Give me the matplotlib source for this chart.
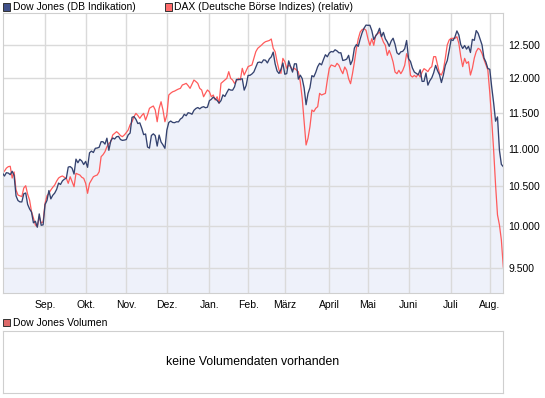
import numpy as np
import pandas as pd
import matplotlib
matplotlib.use("Agg")
import matplotlib.pyplot as plt
from matplotlib.patches import Rectangle
from matplotlib.ticker import FixedLocator, FuncFormatter, NullLocator

plt.rcParams['font.family'] = ['Liberation Sans', 'DejaVu Sans']

# ---------------- data ----------------
holidays = ['2010-09-06', '2010-11-25', '2010-12-24', '2011-01-17',
            '2011-02-21', '2011-04-22', '2011-05-30', '2011-07-04']
dates = pd.bdate_range('2010-08-02', '2011-08-10', freq='C', holidays=holidays)

dow = [
    # Aug 2010
    10674, 10636, 10680, 10675, 10654, 10699, 10644, 10379, 10320, 10303, 10302,
    10406, 10416, 10271, 10214, 10174, 10040, 10060, 9986, 10151, 10010, 10015,
    # Sep
    10269, 10320, 10448, 10341, 10387, 10415, 10463, 10544, 10526, 10573, 10595,
    10608, 10754, 10761, 10739, 10662, 10860, 10812, 10858, 10835, 10788,
    # Oct
    10830, 10751, 10945, 10968, 10949, 11006, 11010, 11020, 11096, 11095, 11063,
    11144, 10979, 11108, 11147, 11133, 11164, 11169, 11126, 11114, 11118,
    # Nov
    11125, 11189, 11215, 11435, 11444, 11407, 11347, 11357, 11283, 11193, 11202,
    11024, 11008, 11181, 11204, 11179, 11036, 11187, 11092, 11052, 11006,
    # Dec
    11256, 11362, 11382, 11362, 11359, 11372, 11370, 11410, 11429, 11477, 11457,
    11499, 11492, 11478, 11533, 11559, 11573, 11555, 11576, 11585, 11570, 11578,
    # Jan 2011
    11671, 11691, 11723, 11697, 11675, 11637, 11672, 11755, 11732, 11787, 11838,
    11825, 11823, 11872, 11981, 11977, 11985, 11990, 11824, 11892,
    # Feb
    12040, 12042, 12062, 12092, 12162, 12233, 12240, 12229, 12273, 12268, 12227,
    12288, 12318, 12391, 12213, 12106, 12069, 12130, 12226,
    # Mar
    12058, 12067, 12258, 12170, 12090, 12214, 12213, 11985, 12044, 11993, 11855,
    11613, 11775, 11859, 12037, 12019, 12086, 12171, 12221, 12198, 12279, 12351, 12320,
    # Apr
    12377, 12400, 12394, 12427, 12409, 12380, 12381, 12264, 12271, 12285, 12342,
    12202, 12267, 12454, 12506, 12480, 12595, 12691, 12763, 12811,
    # May
    12807, 12808, 12724, 12584, 12639, 12685, 12760, 12630, 12696, 12596, 12548,
    12480, 12560, 12605, 12512, 12381, 12356, 12395, 12403, 12442, 12570,
    # Jun
    12290, 12249, 12151, 12090, 12071, 12049, 12124, 11952, 11953, 12076, 11897,
    11962, 12004, 12080, 12190, 12110, 12050, 11935, 12044, 12189, 12261, 12414,
    # Jul
    12583, 12570, 12626, 12719, 12657, 12506, 12447, 12492, 12437, 12480, 12385,
    12587, 12572, 12724, 12681, 12593, 12501, 12303, 12240, 12143,
    # Aug
    12132, 11870, 11640, 11380, 11440, 10980, 10790, 10760,
]

dax_rel = [
    10674, 10700, 10740, 10760, 10765, 10610, 10690, 10455, 10390, 10380,
    10370, 10480, 10510, 10400, 10326, 10180, 10100, 10013, 9992, 10116,
    10037, 10053, 10284, 10380, 10412, 10455, 10490, 10519, 10570, 10610,
    10627, 10637, 10620, 10606, 10541, 10627, 10560, 10497, 10672, 10660,
    10650, 10620, 10606, 10541, 10412, 10540, 10584, 10627, 10640, 10650,
    10693, 10893, 10920, 10960, 11028, 11070, 11096, 11188, 11210, 11234,
    11211, 11180, 11165, 11188, 11220, 11257, 11330, 11372, 11443, 11490,
    11460, 11420, 11460, 11490, 11396, 11470, 11562, 11580, 11595, 11538,
    11372, 11560, 11656, 11538, 11372, 11467, 11753, 11780, 11800, 11810,
    11826, 11840, 11850, 11899, 11910, 11923, 11890, 11850, 11910, 11972,
    11950, 11923, 11850, 11826, 11728, 11780, 11826, 11800, 11728, 11753,
    11681, 11728, 11633, 11923, 11947, 11970, 11997, 12096, 11997, 11972,
    11923, 11960, 11997, 11972, 12146, 12046, 12110, 12171, 12185, 12196,
    12296, 12397, 12449, 12475, 12500, 12530, 12551, 12560, 12570, 12593,
    12449, 12397, 12245, 12121, 12071, 12296, 12245, 12146, 12196, 12171,
    12121, 12146, 12121, 12096, 11947, 11705, 11372, 11051, 11143, 11303,
    11538, 11515, 11562, 11585, 11777, 11753, 11765, 11777, 11972, 12146,
    12196, 12185, 12171, 12221, 12191, 12120, 12066, 12166, 12116, 11991,
    11918, 12066, 12241, 12443, 12597, 12702, 12740, 12754, 12729, 12597,
    12495, 12597, 12495, 12650, 12676, 12702, 12624, 12546, 12495, 12342,
    12418, 12342, 12241, 12091, 12066, 12116, 12066, 12116, 12191, 12367,
    12291, 12041, 12016, 12041, 12016, 12066, 12016, 12091, 12141, 12121,
    12096, 12146, 12171, 12322, 12322, 12196, 12071, 12046, 12121, 12296,
    12500, 12577, 12603, 12603, 12603, 12628, 12526, 12322, 12171, 12296,
    12221, 12246, 12046, 12146, 12300, 12400, 12449, 12430, 12370, 12280,
    12200, 12121, 11790, 11400, 10983, 10519, 10138, 10014, 9830, 9507,
]

y_ticks = [9500, 10000, 10500, 11000, 11500, 12000, 12500]
month_labels = ['Sep.', 'Okt.', 'Nov.', 'Dez.', 'Jan.', 'Feb.', 'März',
                'April', 'Mai', 'Juni', 'Juli', 'Aug.']
legend_main = ['Dow Jones (DB Indikation)', 'DAX (Deutsche Börse Indizes) (relativ)']
legend_vol = 'Dow Jones Volumen'
vol_message = 'keine Volumendaten vorhanden'

# ---------------- layout ----------------
W, H = 545, 398
fig = plt.figure(figsize=(W / 100, H / 100), dpi=100)
fig.patch.set_facecolor('white')

def fx(px):
    return px / W

def fy(py):
    return 1 - py / H

BLUE = '#34426f'
RED = '#ff5b5b'
FILL = '#eef1fa'
GRID = '#dadada'
BORDER = '#cfcfcf'
FS = 7.5

x = np.arange(len(dates))
ymin, ymax = 9205, 13003

ax = fig.add_axes([fx(2.5), fy(293.3), fx(500.8), (293.3 - 13) / H])
ax.set_yscale('log')
ax.set_xlim(0, len(dates) - 1)
ax.set_ylim(ymin, ymax)

ax.fill_between(x, dow, ymin, color=FILL, linewidth=0, zorder=1)
ax.plot(x, dax_rel, color=RED, lw=0.9, zorder=2)
ax.plot(x, dow, color=BLUE, lw=0.95, zorder=3)

# month ticks at first trading day of each month
months = dates.to_period('M')
first_idx = [i for i in range(1, len(dates)) if months[i] != months[i - 1]]
ax.xaxis.set_major_locator(FixedLocator(first_idx))
ax.set_xticklabels(month_labels[:len(first_idx)])
ax.yaxis.set_major_locator(FixedLocator(y_ticks))
ax.yaxis.set_minor_locator(NullLocator())
ax.yaxis.set_major_formatter(FuncFormatter(lambda v, p: f'{int(round(v)):,}'.replace(',', '.')))
ax.yaxis.tick_right()
ax.tick_params(axis='both', length=0, labelsize=FS, colors='black')
ax.tick_params(axis='x', pad=5)
ax.tick_params(axis='y', pad=3.5)
for lab in ax.get_yticklabels():
    lab.set_horizontalalignment('left')

ax.set_axisbelow('line')
ax.grid(True, color=GRID, lw=1.0)
for s in ax.spines.values():
    s.set_color(BORDER)
    s.set_linewidth(0.8)
ax.set_facecolor('white')

# legend (top)
def legend_square(px, py, color):
    fig.patches.append(Rectangle((fx(px), fy(py + 7)), fx(7), 7 / H,
                                 transform=fig.transFigure, facecolor=color,
                                 edgecolor='#333333', linewidth=0.7))

legend_square(3, 3.5, '#405089')
fig.text(fx(13), fy(7.5), legend_main[0], fontsize=FS, va='center', ha='left')
legend_square(165, 3.5, '#ff6b6b')
fig.text(fx(174.5), fy(7.5), legend_main[1], fontsize=FS, va='center', ha='left')

# volume panel
legend_square(3, 319, '#dd6a6a')
fig.text(fx(13), fy(323), legend_vol, fontsize=FS, va='center', ha='left')

axv = fig.add_axes([fx(2.5), fy(393), fx(500.8), (393 - 331) / H])
axv.set_xticks([])
axv.set_yticks([])
for s in axv.spines.values():
    s.set_color(BORDER)
    s.set_linewidth(0.8)
axv.text(0.5, 0.5, vol_message, transform=axv.transAxes, ha='center', va='center',
         fontsize=8.8)

fig.savefig('out.png', dpi=100)
